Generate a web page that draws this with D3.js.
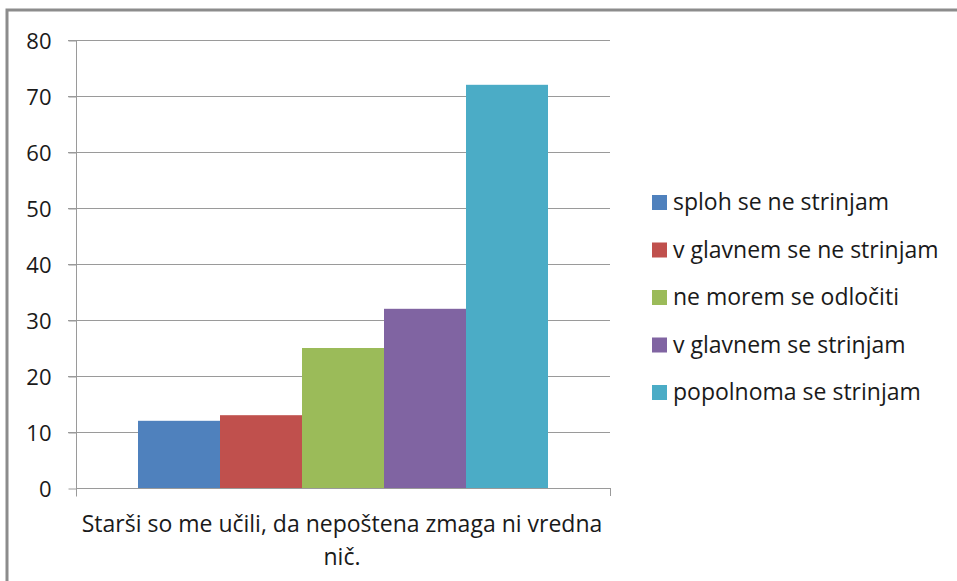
<!doctype html>
<html lang='sl'>
<head>
<meta charset="utf-8">
<script src="https://d3js.org/d3.v7.min.js"></script>
<title>Starši so me učili</title>
<style>
  body { margin: 0; background: white; }
  svg { display: block; }
  text { font-family: "Open Sans", "DejaVu Sans", sans-serif; fill: #1a1a1a; }
  .grid line { stroke: #9a9a9a; }
</style>
</head>
<body>
<div id='chart'></div>
<script>
// data
const category = ['Starši so me učili, da nepoštena zmaga ni vredna', 'nič.'];
const series = ['sploh se ne strinjam', 'v glavnem se ne strinjam', 'ne morem se odločiti', 'v glavnem se strinjam', 'popolnoma se strinjam'];
const values = [12, 13, 25, 32, 72];
const colors = ['#4f81bd', '#c0504d', '#9bbb59', '#8064a2', '#4bacc6'];
const yTicks = [0, 10, 20, 30, 40, 50, 60, 70, 80];

const wsvg = 957, hsvg = 581;
const plotLeft = 76, plotRight = 610, plotTop = 40, plotBottom = 488;

const svg = d3.select('#chart').append('svg')
  .attr('width', wsvg)
  .attr('height', hsvg);

// outer frame (only top and left edges are visible)
svg.append('rect')
  .attr('x', 7).attr('y', 10)
  .attr('width', 1000).attr('height', 700)
  .attr('fill', 'none')
  .attr('stroke', '#8c8c8c')
  .attr('stroke-width', 3);

const yScale = d3.scaleLinear().domain([0, 80]).range([plotBottom, plotTop]);
const xScale = d3.scaleBand().domain(series).range([138, 548]);

// gridlines
svg.append('g')
  .attr('class', 'grid')
  .selectAll('line')
  .data(yTicks.filter(d => d > 0))
  .enter()
  .append('line')
  .attr('x1', plotLeft - 8).attr('x2', plotRight)
  .attr('y1', d => Math.round(yScale(d)) + 0.5)
  .attr('y2', d => Math.round(yScale(d)) + 0.5);

// bars
svg.selectAll('rect.bar')
  .data(values)
  .enter()
  .append('rect')
  .attr('class', 'bar')
  .attr('x', (d, i) => xScale(series[i]))
  .attr('y', d => yScale(d))
  .attr('width', xScale.bandwidth())
  .attr('height', d => plotBottom - yScale(d))
  .attr('fill', (d, i) => colors[i]);

// y axis
const yAxis = d3.axisLeft(yScale).tickValues(yTicks).tickSize(8).tickPadding(17);
const gy = svg.append('g')
  .attr('transform', 'translate(' + (plotLeft + 0.5) + ',0.5)')
  .call(yAxis);
gy.select('.domain').attr('stroke', '#9a9a9a').attr('d', 'M0,' + plotTop + 'V' + (plotBottom + 8));
gy.selectAll('.tick line').attr('stroke', '#9a9a9a');
gy.selectAll('.tick text').style('font-size', '22px').attr('fill', '#1a1a1a').attr('dy', '0.36em');

// x axis line with end tick
svg.append('line')
  .attr('x1', plotLeft).attr('x2', plotRight + 0.5)
  .attr('y1', plotBottom + 0.5).attr('y2', plotBottom + 0.5)
  .attr('stroke', '#9a9a9a');
svg.append('line')
  .attr('x1', plotRight + 0.5).attr('x2', plotRight + 0.5)
  .attr('y1', plotBottom).attr('y2', plotBottom + 8)
  .attr('stroke', '#9a9a9a');

// category label (two lines)
svg.append('g').selectAll('text')
  .data(category)
  .enter()
  .append('text')
  .attr('x', 342)
  .attr('y', (d, i) => 532 + i * 33)
  .attr('text-anchor', 'middle')
  .style('font-size', '23px')
  .text(d => d);

// legend
const legend = svg.append('g').selectAll('g')
  .data(series)
  .enter()
  .append('g')
  .attr('transform', (d, i) => 'translate(652,' + (210 + i * 47.5) + ')');
legend.append('rect')
  .attr('x', 0).attr('y', -15)
  .attr('width', 15).attr('height', 15)
  .attr('fill', (d, i) => colors[i]);
legend.append('text')
  .attr('x', 21).attr('y', 0)
  .style('font-size', '23px')
  .text(d => d);
</script>
</body>
</html>
